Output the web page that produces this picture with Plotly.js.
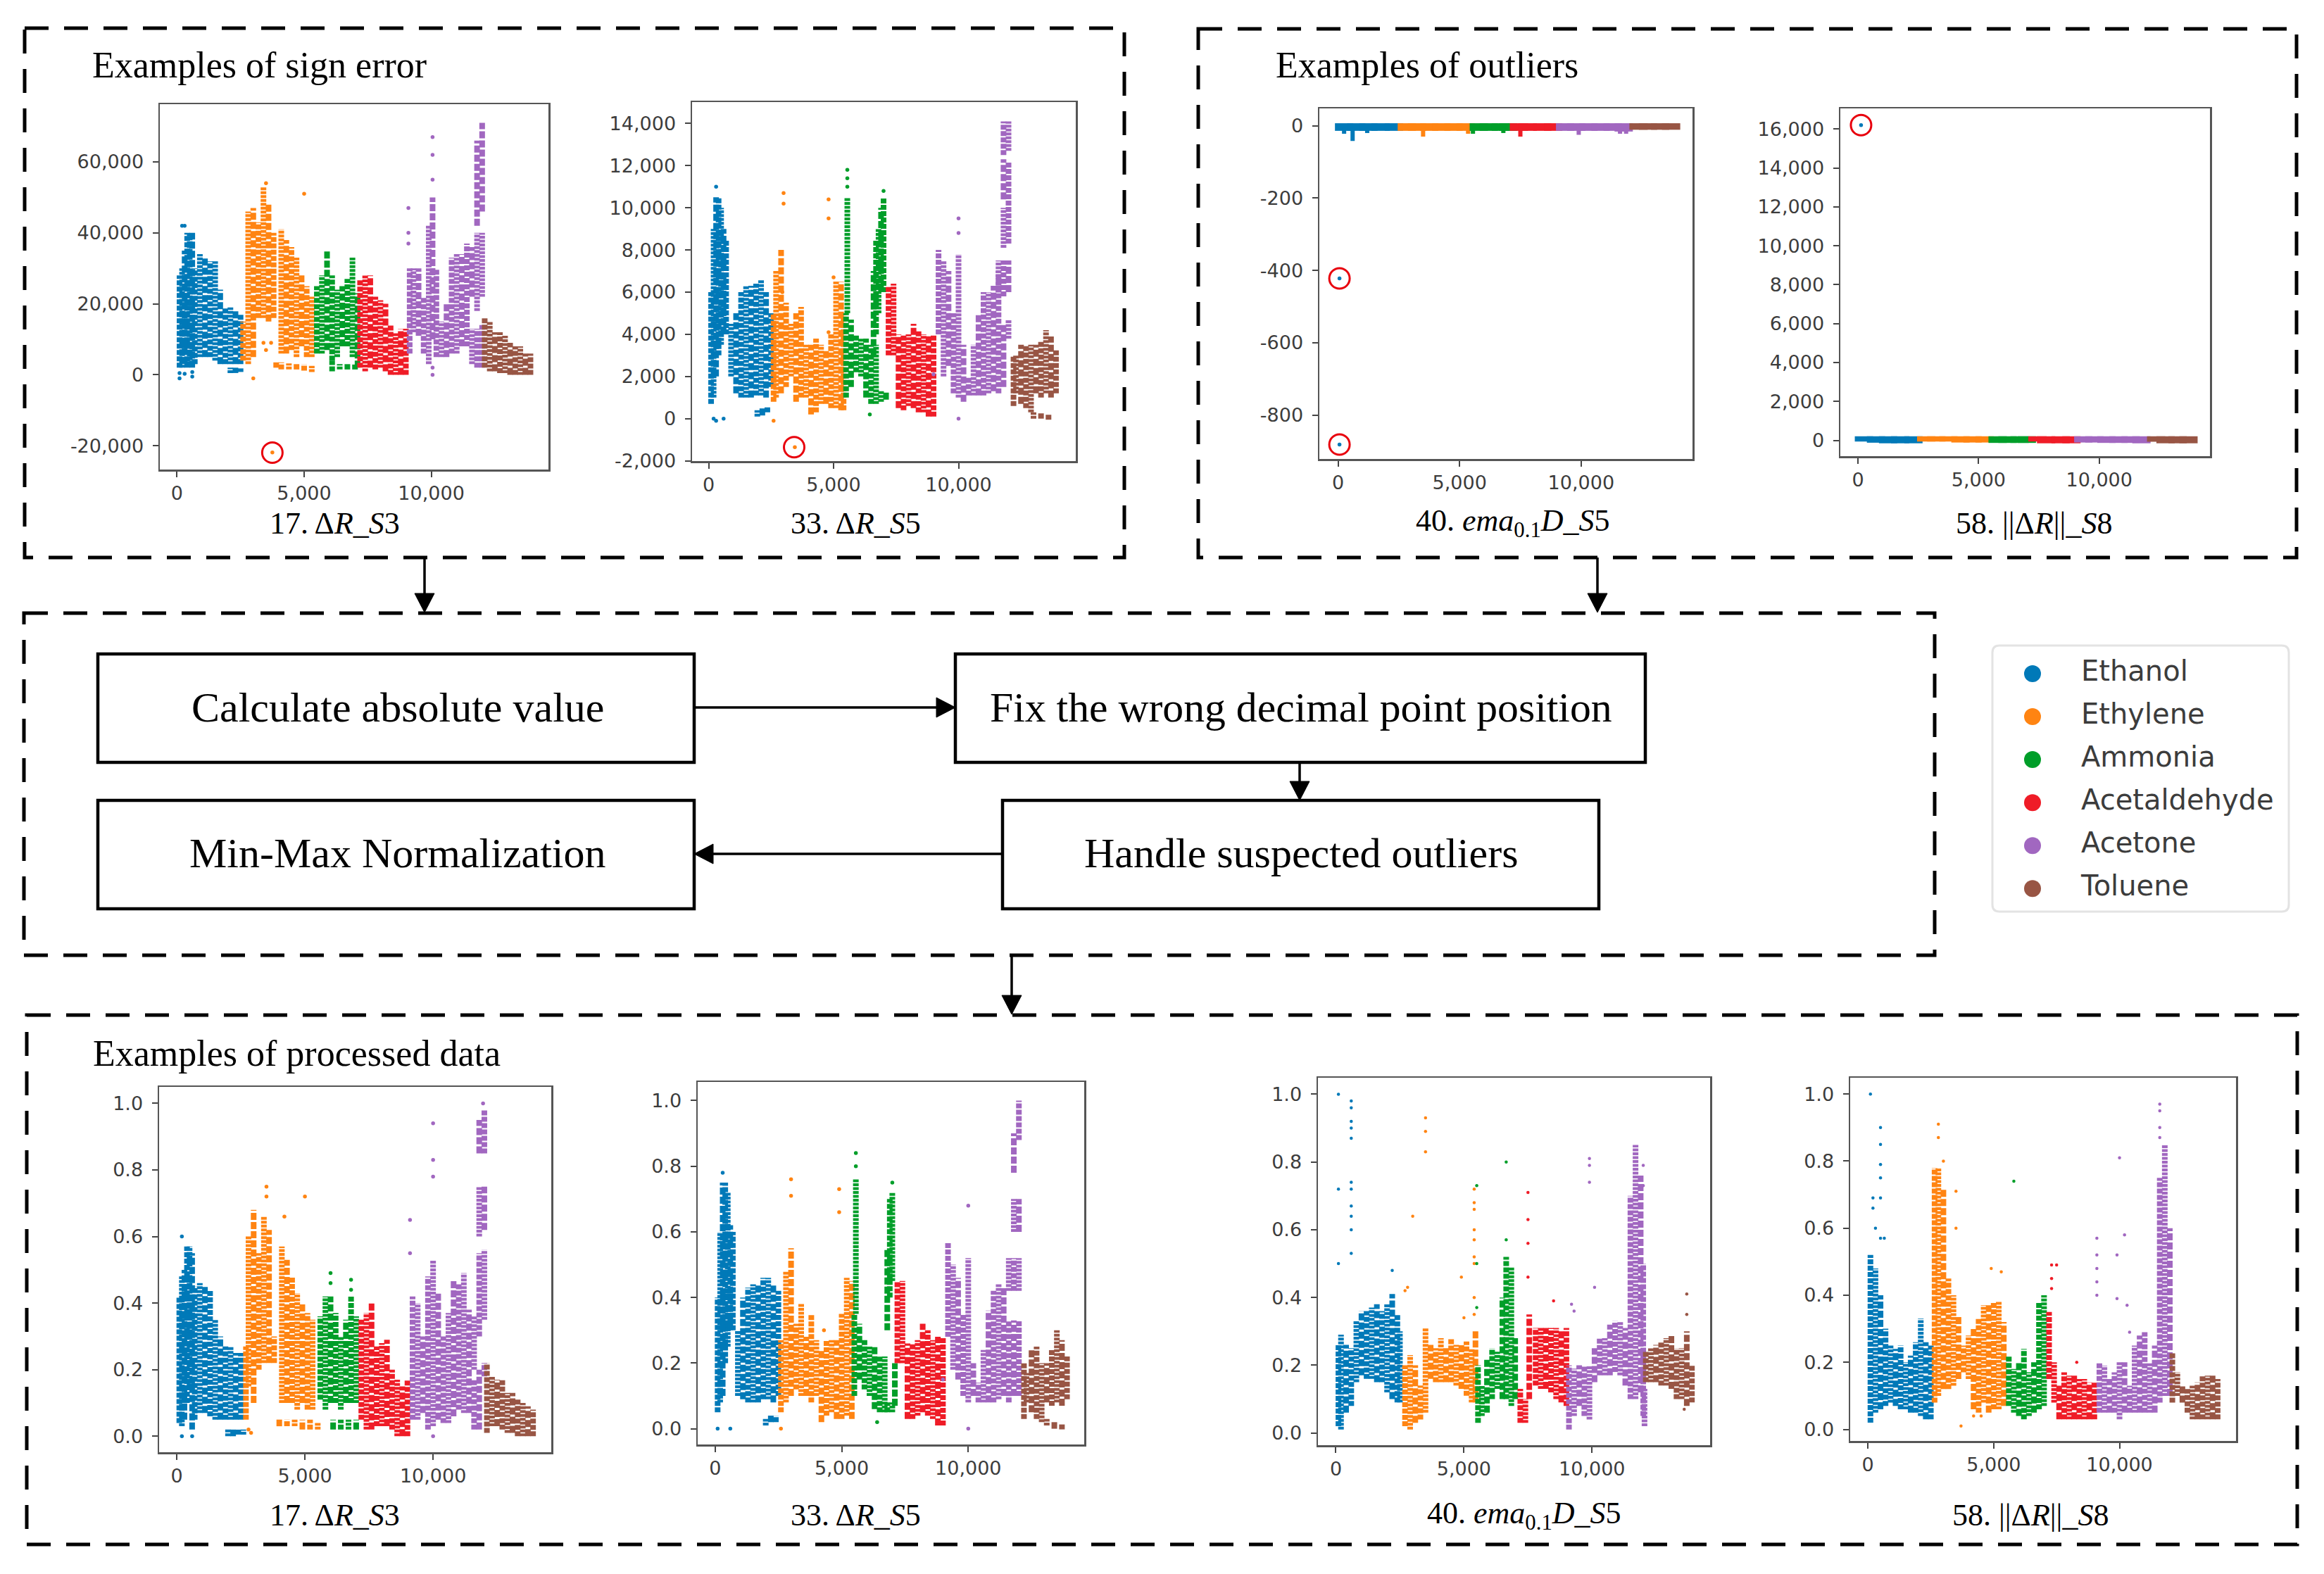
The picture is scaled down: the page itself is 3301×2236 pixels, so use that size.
<!DOCTYPE html>
<html><head><meta charset="utf-8">
<script src="https://cdn.plot.ly/plotly-3.0.1.min.js"></script>
<style>html,body{margin:0;padding:0;background:#fff}</style></head>
<body><div id="chart" style="width:3301px;height:2236px"></div>
<script>
var gases=['Ethanol','Ethylene','Ammonia','Acetaldehyde','Acetone','Toluene'];
var gasColors=['#0079b8','#ff8412','#009e29','#ef1c27','#a167c0','#985544'];
var xTickVals=[0,5000,10000];
var xTickText=['0','5,000','10,000'];
var unitTickVals=[0,0.2,0.4,0.6,0.8,1];
var unitTickText=['0.0','0.2','0.4','0.6','0.8','1.0'];

// 17. dR_S3, raw
var a17_Ethanol_x=[100,200,300,400,500,600,700,900,1100,1300,1500,1700,1900,2100,2300,2500,2100,2300,2500];
var a17_Ethanol_lo=[2000,2000,3000,2000,3000,2000,3000,5000,5000,5000,4000,3000,3000,3000,3000,3000,500,500,800];
var a17_Ethanol_hi=[28000,30000,35000,40000,40000,40000,30000,34000,33000,32000,32000,24000,19000,19000,18000,17000,2000,2000,1800];
var a17_Ethanol_px=[100,200,300,600,100,300,600];var a17_Ethanol_py=[-1000,42000,42000,-500,500,300,800];
var a17_Ethylene_x=[2600,2800,3000,3200,3400,3600,3800,4100,4300,4500,4700,4900,5100,5300,3900,4100,4400,4700,5000,5300];
var a17_Ethylene_lo=[4000,3000,5000,16000,16000,15000,16000,6000,6000,7000,5000,8000,5000,5000,2000,1500,1500,1500,1200,800];
var a17_Ethylene_hi=[15000,46000,47000,43000,53000,48000,40000,41000,38000,36000,33000,28000,25000,22000,3500,3500,3200,3000,3000,2500];
var a17_Ethylene_px=[3000,3500,3500,5000,3700,3400,3750];var a17_Ethylene_py=[-1000,54000,7000,51000,9000,9000,-21900];
var a17_Ammonia_x=[5500,5700,5900,6100,6300,6500,6700,6900,7100,6100,6400,6700,7000];
var a17_Ammonia_lo=[6000,6000,7000,4000,5000,8000,8000,5000,2000,1000,1500,1500,1500];
var a17_Ammonia_hi=[25000,28000,35000,28000,24000,25000,27000,33000,23000,4000,3000,3000,3000];
var a17_Acetaldehyde_x=[7200,7400,7600,7800,8000,8200,8400,8600,8800,9000];
var a17_Acetaldehyde_lo=[2000,1000,2000,1500,2000,1000,0,0,0,0];
var a17_Acetaldehyde_hi=[27000,28000,28000,22000,21000,20000,14000,12000,13000,13000];
var a17_Acetone_x=[9150,9300,9500,9700,9900,10050,10200,10400,10600,10800,11000,11200,11400,11600,11600,11800,11800,11800,12000,12000,12000];
var a17_Acetone_lo=[6000,12000,11000,6000,3000,10000,5000,5000,5000,6000,6000,8000,8000,3000,22000,2000,18000,42000,2000,22000,46000];
var a17_Acetone_hi=[30000,30000,30000,22000,42000,50000,30000,15000,20000,33000,34000,34000,37000,13000,36000,13000,40000,66000,14000,40000,71000];
var a17_Acetone_px=[9100,9100,9100,10050,10050,10050,10050,10050];var a17_Acetone_py=[47000,40000,37000,67000,62000,55000,0,2000];
var a17_Toluene_x=[12100,12300,12500,12700,12900,13100,13300,13500,13700,13900];
var a17_Toluene_lo=[2000,1000,1000,500,500,0,0,0,0,0];
var a17_Toluene_hi=[16000,15000,12000,12000,11000,9000,8000,8000,6000,6000];

// 33. dR_S5, raw
var a33_Ethanol_x=[100,200,300,400,500,600,700,900,1100,1300,1500,1700,1900,2100,2300,2500,1950,2150,2350];
var a33_Ethanol_lo=[700,1000,2000,3000,3500,4000,4000,2000,1200,1000,1000,1000,1100,1100,1000,1500,100,150,300];
var a33_Ethanol_hi=[6000,9000,10500,10500,10000,9000,8500,4500,5000,6000,6300,6300,6400,6600,6000,5000,400,500,600];
var a33_Ethanol_px=[200,300,600,300];var a33_Ethanol_py=[0,-100,0,11000];
var a33_Ethylene_x=[2600,2700,2900,3100,3300,3500,3700,3900,4100,4300,4500,4700,4900,5100,5300,5400];
var a33_Ethylene_lo=[800,1000,1200,1500,2000,800,1000,1000,200,300,700,700,500,500,400,400];
var a33_Ethylene_hi=[5000,7000,8000,5500,4500,5000,5300,3500,3500,3800,3500,3300,4000,6500,6500,5000];
var a33_Ethylene_px=[3000,3000,2950,4800,4800,4800,5000,2600,3450];var a33_Ethylene_py=[10700,10200,6000,10400,9500,4100,6700,-100,-1350];
var a33_Ammonia_x=[5500,5550,5700,5900,6100,6300,6500,6700,6600,6700,6800,6900,7000,6900,7100];
var a33_Ammonia_lo=[1000,5000,1500,2200,2000,1000,700,700,3000,4000,5000,6000,6000,800,900];
var a33_Ammonia_hi=[5000,10500,4700,4000,3800,3800,3500,3500,7000,8500,9000,10000,10500,1300,1300];
var a33_Ammonia_px=[5550,5550,5550,7000,6450];var a33_Ammonia_py=[11800,11400,11000,10800,200];
var a33_Acetaldehyde_x=[7200,7400,7600,7800,8000,8200,8400,8600,8800,9000];
var a33_Acetaldehyde_lo=[3000,3000,500,400,600,500,300,300,100,100];
var a33_Acetaldehyde_hi=[6300,6400,4000,4000,4000,4500,4200,4000,4000,4000];
var a33_Acetone_x=[9200,9400,9600,9800,10000,10200,10400,10600,10800,11000,11200,11400,11600,11600,11800,11800,11800,11800,11800,12000,12000,12000,12000];
var a33_Acetone_lo=[4000,2000,2500,1200,1000,800,1100,1100,1100,1100,1200,1300,1200,5800,1500,5800,8100,10400,12500,3800,6000,8300,12700];
var a33_Acetone_hi=[8000,7500,7000,5000,7800,3500,2000,3500,5000,6000,6000,6300,7000,7500,4500,7500,10000,12300,14100,4700,7500,12200,14100];
var a33_Acetone_px=[9000,10000,10000,10000];var a33_Acetone_py=[2100,9500,8800,0];
var a33_Toluene_x=[12200,12300,12500,12700,12900,13100,13300,13500,13700,13900,13000,13300,13600];
var a33_Toluene_lo=[600,1200,700,500,300,1200,1000,1200,1000,1200,0,0,-50];
var a33_Toluene_hi=[3000,3000,3500,3500,3500,3500,3700,4200,3900,3300,300,250,200];

// 40. ema D_S5, raw (flat band with drips)
var a40_Ethanol_x=[250,750,1250,1750,2300];
var a40_Ethanol_lo=[-14,-14,-14,-14,-14];
var a40_Ethanol_hi=[7,7,7,7,7];
var a40_Ethanol_px=[60,60];var a40_Ethanol_py=[-422,-881];
var a40_Ethanol_dx=[600,250,1200];var a40_Ethanol_dlo=[-42,-22,-20];var a40_Ethanol_dhi=[-5,-5,-5];
var a40_Ethylene_x=[2830,3250,3750,4250,4750,5250];
var a40_Ethylene_lo=[-14,-14,-14,-14,-14,-14];
var a40_Ethylene_hi=[7,7,7,7,7,7];
var a40_Ethylene_dx=[3500,5350];var a40_Ethylene_dlo=[-30,-22];var a40_Ethylene_dhi=[-5,-5];
var a40_Ammonia_x=[5790,6200,6700,7000];
var a40_Ammonia_lo=[-14,-14,-14,-14];
var a40_Ammonia_hi=[7,7,7,7];
var a40_Ammonia_dx=[6800,5550];var a40_Ammonia_dlo=[-20,-22];var a40_Ammonia_dhi=[-5,-5];
var a40_Acetaldehyde_x=[7440,7800,8400,8850];
var a40_Acetaldehyde_lo=[-14,-14,-14,-14];
var a40_Acetaldehyde_hi=[7,7,7,7];
var a40_Acetaldehyde_dx=[7500];var a40_Acetaldehyde_dlo=[-30];var a40_Acetaldehyde_dhi=[-5];
var a40_Acetone_x=[9340,9800,10300,10800,11300,11750];
var a40_Acetone_lo=[-14,-14,-14,-14,-14,-16];
var a40_Acetone_hi=[7,7,7,7,7,7];
var a40_Acetone_dx=[9900,11600,11850];var a40_Acetone_dlo=[-25,-22,-22];var a40_Acetone_dhi=[-5,-5,-5];
var a40_Toluene_x=[12360,12750,13250,13700];
var a40_Toluene_lo=[-11,-11,-11,-11];
var a40_Toluene_hi=[7,7,7,7];

// 58. ||dR||_S8, raw
var a58_Ethanol_x=[250,750,1250,1750,2300];
var a58_Ethanol_lo=[-60,-120,-150,-150,-150];
var a58_Ethanol_hi=[210,210,210,210,210];
var a58_Ethanol_px=[130];var a58_Ethanol_py=[16200];
var a58_Ethylene_x=[2830,3250,3750,4250,4750,5250];
var a58_Ethylene_lo=[-60,-60,-60,-110,-110,-110];
var a58_Ethylene_hi=[210,210,210,210,210,210];
var a58_Ammonia_x=[5790,6200,6700,7000];
var a58_Ammonia_lo=[-130,-130,-130,-130];
var a58_Ammonia_hi=[210,210,210,210];
var a58_Acetaldehyde_x=[7440,7800,8400,8850];
var a58_Acetaldehyde_lo=[-60,-150,-150,-150];
var a58_Acetaldehyde_hi=[210,210,210,210];
var a58_Acetone_x=[9340,9800,10300,10800,11300,11750];
var a58_Acetone_lo=[-110,-110,-130,-130,-130,-150];
var a58_Acetone_hi=[210,210,210,210,210,210];
var a58_Toluene_x=[12360,12750,13250,13700];
var a58_Toluene_lo=[-70,-150,-150,-150];
var a58_Toluene_hi=[210,210,210,210];

// 17. processed
var b17_Ethanol_x=[100,200,300,400,500,600,700,900,1100,1300,1500,1700,1900,2100,2300,2500,2000,2200,2400,2600];
var b17_Ethanol_lo=[.04,.03,.05,.1,.15,.02,.05,.07,.07,.06,.05,.05,.05,.05,.05,.05,0,0,.005,.005];
var b17_Ethanol_hi=[.42,.48,.5,.57,.57,.55,.45,.46,.45,.44,.35,.3,.27,.27,.25,.25,.02,.02,.02,.02];
var b17_Ethanol_px=[200,600,200];var b17_Ethanol_py=[0,0,.6];
var b17_Ethylene_x=[2700,2800,3000,3200,3400,3600,3800,4100,4300,4500,4700,4900,5100,5300,4000,4300,4600,4900,5200,5500];
var b17_Ethylene_lo=[.05,.15,.1,.2,.22,.22,.22,.1,.1,.1,.08,.1,.08,.08,.03,.03,.03,.02,.02,.02];
var b17_Ethylene_hi=[.27,.6,.68,.55,.66,.62,.3,.57,.53,.48,.43,.4,.37,.35,.05,.05,.05,.05,.05,.04];
var b17_Ethylene_px=[5000,4200,3500,3500,2900,2800];var b17_Ethylene_py=[.72,.66,.75,.72,.01,.02];
var b17_Ammonia_x=[5600,5800,6000,6200,6400,6600,6800,7000,6100,6400,6700,7000];
var b17_Ammonia_lo=[.11,.08,.1,.1,.08,.1,.1,.1,.02,.02,.02,.02];
var b17_Ammonia_hi=[.36,.42,.42,.37,.3,.35,.42,.36,.05,.05,.05,.05];
var b17_Ammonia_px=[6000,6000,6800,6800];var b17_Ammonia_py=[.49,.46,.47,.44];
var b17_Acetaldehyde_x=[7200,7400,7600,7800,8000,8200,8400,8600,8800,9000];
var b17_Acetaldehyde_lo=[.05,.02,.02,.03,.03,.03,.02,0,0,0];
var b17_Acetaldehyde_hi=[.35,.37,.4,.27,.28,.29,.2,.17,.15,.17];
var b17_Acetone_x=[9200,9400,9600,9800,10000,10200,10400,10600,10800,11000,11200,11400,11600,11600,11800,11800,11800,11800,12000,12000,12000,12000];
var b17_Acetone_lo=[.05,.05,.07,.02,.03,.05,.04,.04,.06,.08,.07,.07,.02,.2,.02,.3,.6,.85,.18,.35,.62,.85];
var b17_Acetone_hi=[.42,.4,.3,.48,.53,.43,.3,.37,.47,.46,.49,.38,.17,.36,.2,.55,.75,.95,.22,.56,.75,.98];
var b17_Acetone_px=[9100,9100,10000,10000,10000,10000,11950];var b17_Acetone_py=[.65,.55,.94,.83,.78,0,1];
var b17_Toluene_x=[12100,12300,12500,12700,12900,13100,13300,13500,13700,13900];
var b17_Toluene_lo=[.01,.03,.03,.02,.01,.01,0,0,0,0];
var b17_Toluene_hi=[.22,.18,.17,.17,.13,.13,.11,.1,.09,.08];

// 33. processed
var b33_Ethanol_x=[100,200,300,400,500,600,700,900,1100,1300,1500,1700,1900,2100,2300,2500,2000,2200,2400];
var b33_Ethanol_lo=[.05,.08,.1,.2,.25,.3,.3,.1,.09,.08,.08,.08,.09,.09,.08,.1,.01,.02,.02];
var b33_Ethanol_hi=[.4,.6,.75,.75,.72,.62,.6,.3,.4,.43,.44,.44,.46,.46,.44,.42,.03,.04,.04];
var b33_Ethanol_px=[100,600,300];var b33_Ethanol_py=[0,0,.78];
var b33_Ethylene_x=[2600,2800,3000,3200,3400,3600,3800,4000,4200,4400,4600,4800,5000,5200,5400];
var b33_Ethylene_lo=[.05,.08,.1,.12,.1,.1,.08,.1,.02,.04,.05,.03,.03,.04,.03];
var b33_Ethylene_hi=[.27,.48,.55,.32,.38,.28,.35,.27,.24,.27,.27,.27,.35,.46,.45];
var b33_Ethylene_px=[3000,3000,4900,4900,3800,4300,2600];var b33_Ethylene_py=[.76,.71,.73,.66,.3,.3,0];
var b33_Ammonia_x=[5500,5560,5700,5900,6100,6300,6500,6700,6800,6900,7000,7100,6800,7000];
var b33_Ammonia_lo=[.1,.35,.15,.12,.1,.06,.05,.05,.3,.4,.45,.07,.05,.05];
var b33_Ammonia_hi=[.35,.76,.32,.27,.25,.25,.22,.22,.55,.7,.72,.2,.08,.08];
var b33_Ammonia_px=[5560,5560,7000,6400];var b33_Ammonia_py=[.84,.8,.75,.02];
var b33_Acetaldehyde_x=[7200,7400,7600,7800,8000,8200,8400,8600,8800,9000];
var b33_Acetaldehyde_lo=[.2,.2,.03,.03,.04,.05,.04,.03,.01,.01];
var b33_Acetaldehyde_hi=[.45,.45,.26,.26,.27,.32,.3,.27,.28,.28];
var b33_Acetone_x=[9200,9400,9600,9800,10000,10200,10400,10600,10800,11000,11200,11400,11600,11600,11800,11800,11800,11800,12000,12000,12000,12000];
var b33_Acetone_lo=[.28,.18,.15,.1,.08,.1,.08,.08,.08,.08,.09,.1,.08,.42,.1,.42,.6,.78,.1,.42,.6,.88];
var b33_Acetone_hi=[.57,.5,.46,.35,.52,.2,.14,.24,.36,.42,.44,.43,.33,.52,.33,.52,.7,.9,.33,.52,.7,1];
var b33_Acetone_px=[10000,10000,9000];var b33_Acetone_py=[.68,0,.15];
var b33_Toluene_x=[12200,12300,12500,12700,12900,13100,13300,13500,13700,13900,13100,13400,13700];
var b33_Toluene_lo=[.03,.08,.05,.03,.02,.08,.07,.08,.07,.09,.01,0,-.002];
var b33_Toluene_hi=[.2,.17,.24,.25,.2,.2,.24,.3,.27,.22,.03,.02,.015];

// 40. processed
var b40_Ethanol_x=[100,200,400,600,800,1000,1200,1400,1600,1800,2000,2200,2400,2500];
var b40_Ethanol_lo=[.02,.01,.06,.08,.15,.17,.16,.16,.15,.15,.12,.1,.09,.09];
var b40_Ethanol_hi=[.26,.29,.26,.25,.33,.36,.36,.37,.38,.36,.38,.41,.35,.3];
var b40_Ethanol_px=[100,100,100,600,600,600,600,600,600,600,600,600,600,600,2200];
var b40_Ethanol_py=[1,.72,.5,.98,.96,.92,.9,.87,.74,.72,.67,.64,.6,.53,.48];
var b40_Ethylene_x=[2700,2900,3100,3300,3500,3700,3900,4100,4300,4500,4700,4900,5100,5300,5450];
var b40_Ethylene_lo=[.02,.01,.03,.04,.06,.16,.15,.15,.15,.15,.14,.13,.11,.09,.09];
var b40_Ethylene_hi=[.2,.23,.2,.14,.31,.26,.25,.28,.25,.28,.26,.26,.27,.25,.3];
var b40_Ethylene_px=[3500,3500,3500,3000,2700,2800,5400,5400,5400,5400,5400,5400,5400,5400,5400,4900,5000];
var b40_Ethylene_py=[.93,.89,.83,.64,.42,.43,.72,.68,.66,.6,.57,.52,.5,.4,.35,.46,.34];
var b40_Ammonia_x=[5550,5700,5900,6100,6300,6500,6650,6850,7000];
var b40_Ammonia_lo=[.03,.05,.06,.1,.13,.1,.1,.08,.1];
var b40_Ammonia_hi=[.2,.14,.22,.25,.24,.4,.52,.49,.28];
var b40_Ammonia_px=[6650,6650,5500,5500,5500];var b40_Ammonia_py=[.8,.57,.73,.5,.37];
var b40_Acetaldehyde_x=[7200,7400,7550,7800,8000,8200,8400,8600,8800,9000];
var b40_Acetaldehyde_lo=[.03,.03,.1,.14,.13,.13,.12,.1,.09,.08];
var b40_Acetaldehyde_hi=[.13,.1,.35,.31,.31,.31,.31,.31,.3,.31];
var b40_Acetaldehyde_px=[7500,7500,7500,7500,8500];var b40_Acetaldehyde_py=[.71,.63,.56,.46,.39];
var b40_Acetone_x=[9100,9300,9500,9700,9900,10100,10300,10500,10700,10900,11100,11300,11500,11700,11900,12000,12050];
var b40_Acetone_lo=[.01,.05,.08,.05,.04,.15,.17,.17,.17,.18,.17,.14,.1,.1,.12,.05,.02];
var b40_Acetone_hi=[.2,.19,.2,.2,.2,.25,.28,.28,.32,.33,.33,.31,.7,.85,.76,.5,.13];
var b40_Acetone_px=[9900,9900,9900,10100,9200,9300,12000,12000];var b40_Acetone_py=[.81,.79,.74,.43,.38,.36,.73,.79];
var b40_Toluene_x=[12100,12300,12500,12700,12900,13100,13300,13500,13700,13900];
var b40_Toluene_lo=[.15,.15,.15,.14,.14,.13,.1,.1,.08,.09];
var b40_Toluene_hi=[.24,.25,.26,.27,.28,.29,.25,.25,.3,.2];
var b40_Toluene_px=[13700,13700,13600];var b40_Toluene_py=[.41,.35,.07];

// 58. processed
var b58_Ethanol_x=[100,300,500,700,900,1100,1300,1500,1700,1900,2100,2300,2500];
var b58_Ethanol_lo=[.02,.05,.06,.07,.08,.07,.06,.06,.05,.05,.04,.03,.03];
var b58_Ethanol_hi=[.52,.48,.4,.3,.25,.24,.25,.2,.22,.26,.33,.26,.25];
var b58_Ethanol_px=[100,200,200,500,500,500,500,500,500,300,650];var b58_Ethanol_py=[1,.69,.66,.9,.85,.79,.75,.69,.57,.6,.57];
var b58_Ethylene_x=[2650,2800,3000,3200,3400,3600,3800,4000,4200,4400,4600,4800,5000,5200,5400];
var b58_Ethylene_lo=[.08,.1,.12,.12,.13,.15,.17,.15,.06,.05,.08,.05,.06,.06,.07];
var b58_Ethylene_hi=[.78,.78,.72,.45,.4,.34,.25,.28,.3,.33,.37,.37,.38,.38,.32];
var b58_Ethylene_px=[2800,2800,3000,3500,3500,4900,5300,3700,4200,4500];var b58_Ethylene_py=[.91,.87,.8,.71,.6,.48,.47,.01,.04,.04];
var b58_Ammonia_x=[5600,5800,6000,6200,6400,6600,6800,7000];
var b58_Ammonia_lo=[.07,.05,.04,.03,.04,.05,.06,.07];
var b58_Ammonia_hi=[.22,.18,.2,.24,.17,.2,.38,.4];
var b58_Ammonia_px=[5800];var b58_Ammonia_py=[.74];
var b58_Acetaldehyde_x=[7200,7400,7600,7800,8000,8200,8400,8600,8800,9000];
var b58_Acetaldehyde_lo=[.15,.08,.03,.03,.03,.03,.03,.03,.03,.03];
var b58_Acetaldehyde_hi=[.35,.2,.13,.17,.16,.16,.15,.15,.14,.14];
var b58_Acetaldehyde_px=[7300,7300,7300,7500,8300];var b58_Acetaldehyde_py=[.49,.45,.42,.49,.2];
var b58_Acetone_x=[9200,9400,9600,9800,10000,10200,10400,10600,10800,11000,11200,11400,11600,11800,12000];
var b58_Acetone_lo=[.05,.05,.05,.05,.03,.05,.05,.05,.05,.05,.05,.05,.08,.1,.1];
var b58_Acetone_hi=[.2,.19,.15,.17,.2,.2,.13,.25,.28,.29,.2,.25,.75,.85,.6];
var b58_Acetone_px=[9100,9100,9100,9100,9100,10000,10200,9900,10400,11600,11600,11600,11600,10300,9900];
var b58_Acetone_py=[.57,.52,.48,.44,.4,.81,.58,.52,.29,.97,.95,.9,.87,.37,.39];
var b58_Toluene_x=[12100,12300,12500,12700,12900,13100,13300,13500,13700,13900];
var b58_Toluene_lo=[.08,.1,.08,.05,.03,.03,.03,.03,.03,.03];
var b58_Toluene_hi=[.23,.17,.13,.12,.13,.14,.16,.16,.16,.15];

// outlier rings
var ringX=[3750,3423,60,60,130];
var ringY=[-21940,-1354,-422,-881,16200];
var ringPanel=['a17','a33','a40','a40','a58'];

var W=3301,H=2236;
var a17YVals=[-20000,0,20000,40000,60000];var a17YText=['-20,000','0','20,000','40,000','60,000'];
var a33YVals=[-2000,0,2000,4000,6000,8000,10000,12000,14000];var a33YText=['-2,000','0','2,000','4,000','6,000','8,000','10,000','12,000','14,000'];
var a40YVals=[-800,-600,-400,-200,0];var a40YText=['-800','-600','-400','-200','0'];
var a58YVals=[0,2000,4000,6000,8000,10000,12000,14000,16000];var a58YText=['0','2,000','4,000','6,000','8,000','10,000','12,000','14,000','16,000'];
var frames=[
 ['a17',227,779,148,667,-676,14607,-26700,76270,a17YVals,a17YText,8],
 ['a33',983,1528,145,655,-662,14690,-2013,15014,a33YVals,a33YText,8],
 ['a40',1874,2404,154,652,-768,14580,-921,48,a40YVals,a40YText,26],
 ['a58',2614,3139,154,648,-729,14590,-811,17060,a58YVals,a58YText,26],
 ['b17',226,783,1544,2063,-688,14610,-.048,1.0496,unitTickVals,unitTickText,8],
 ['b33',991,1540,1537,2052,-688,14580,-.048,1.0568,unitTickVals,unitTickText,8],
 ['b40',1872,2429,1531,2053,-700,14610,-.036,1.0487,unitTickVals,unitTickText,8],
 ['b58',2628,3176,1531,2047,-705,14630,-.0346,1.0487,unitTickVals,unitTickText,8]
];
// stipple patterns used in turn so that neighbouring columns do not line up
var stipple=['7px,2px','4px,1.5px','10px,3px'];
var traces=[],layout={width:W,height:H,margin:{l:0,r:0,t:0,b:0},paper_bgcolor:'#fff',plot_bgcolor:'#fff',showlegend:false,shapes:[],annotations:[]};
frames.forEach(function(f,i){
  var n=i?String(i+1):'',xk='xaxis'+n,yk='yaxis'+n,xa='x'+n,ya='y'+n;
  var tick={tickfont:{family:'DejaVu Sans',size:27,color:'#3c3c3c'},ticks:'outside',ticklen:8,tickwidth:2,tickcolor:'#444',showgrid:false,zeroline:false,showline:true,mirror:true,linecolor:'#555',linewidth:2.5,tickmode:'array'};
  layout[xk]=Object.assign({},tick,{domain:[f[1]/W,f[2]/W],range:[f[5],f[6]],tickvals:xTickVals,ticktext:xTickText,anchor:ya});
  layout[yk]=Object.assign({},tick,{domain:[1-f[4]/H,1-f[3]/H],range:[f[7],f[8]],tickvals:f[9],ticktext:f[10],anchor:xa,ticklabelstandoff:7});
  gases.forEach(function(g,k){
    var c=gasColors[k],p=f[0]+'_'+g+'_';
    var xs=window[p+'x'],lo=window[p+'lo'],hi=window[p+'hi'],px=window[p+'px'],py=window[p+'py'];
    var dx=window[p+'dx'],dlo=window[p+'dlo'],dhi=window[p+'dhi'];
    var flat=f[11]>20;
    (flat?['solid']:stipple).forEach(function(d,s,all){
      var lx=[],ly=[];
      xs.forEach(function(x,j){if(j%all.length===s){lx.push(x,x,null);ly.push(lo[j],hi[j],null);}});
      if(lx.length)traces.push({type:'scatter',mode:'lines',name:g,x:lx,y:ly,xaxis:xa,yaxis:ya,hoverinfo:'skip',line:{color:c,width:f[11],dash:d}});
    });
    if(dx){
      var ex=[],ey=[];
      dx.forEach(function(x,j){ex.push(x,x,null);ey.push(dlo[j],dhi[j],null);});
      traces.push({type:'scatter',mode:'lines',name:g,x:ex,y:ey,xaxis:xa,yaxis:ya,hoverinfo:'skip',line:{color:c,width:6}});
    }
    if(px)traces.push({type:'scatter',mode:'markers',name:g,x:px,y:py,xaxis:xa,yaxis:ya,hoverinfo:'skip',marker:{color:c,size:i>5?4.5:5.5}});
  });
});
frames.forEach(function(f,i){
  var n=i?String(i+1):'',xs=[],ys=[];
  ringPanel.forEach(function(p,j){if(p===f[0]){xs.push(ringX[j]);ys.push(ringY[j]);}});
  if(xs.length)traces.push({type:'scatter',mode:'markers',x:xs,y:ys,xaxis:'x'+n,yaxis:'y'+n,hoverinfo:'skip',cliponaxis:false,
    marker:{symbol:'circle-open',size:29,color:'#e8000d',line:{color:'#e8000d',width:3}}});
});
// key: markers and names on their own hidden axes
var keyRows=gases.map(function(g,k){return k;});
layout.xaxis9={domain:[2830/W,3251/W],range:[0,421],visible:false,anchor:'y9'};
layout.yaxis9={domain:[1-1295/H,1-917/H],range:[5.535,-0.654],visible:false,anchor:'x9'};
traces.push({type:'scatter',mode:'markers',x:gases.map(function(){return 57;}),y:keyRows,xaxis:'x9',yaxis:'y9',hoverinfo:'skip',marker:{color:gasColors,size:24}});
traces.push({type:'scatter',mode:'text',x:gases.map(function(){return 126;}),y:keyRows,text:gases,textposition:'middle right',xaxis:'x9',yaxis:'y9',hoverinfo:'skip',cliponaxis:false,textfont:{family:'DejaVu Sans',size:40,color:'#3c3c3c'}});

function X(v){return v/W;} function Y(v){return 1-v/H;}
function rect(x0,y0,x1,y1,dash,w){layout.shapes.push({type:'rect',xref:'paper',yref:'paper',x0:X(x0),x1:X(x1),y0:Y(y0),y1:Y(y1),line:{color:'#000',width:w,dash:dash||'solid'}});}
function seg(x0,y0,x1,y1){layout.shapes.push({type:'line',xref:'paper',yref:'paper',x0:X(x0),x1:X(x1),y0:Y(y0),y1:Y(y1),line:{color:'#000',width:3.5}});}
function tri(a,b,c,d,e,f){layout.shapes.push({type:'path',xref:'paper',yref:'paper',path:'M'+X(a)+','+Y(b)+' L'+X(c)+','+Y(d)+' L'+X(e)+','+Y(f)+' Z',fillcolor:'#000',line:{color:'#000',width:1}});}
function down(x,y0,y1){seg(x,y0,x,y1-20);tri(x,y1,x-14,y1-27,x+14,y1-27);}
var boxDash='34px,22px';
rect(35,40,1597,792,boxDash,5);
rect(1702,41,3262,792,boxDash,5);
rect(34,871,2748,1357,boxDash,5);
rect(38,1442,3263,2194,boxDash,5);
rect(139,929,986,1083,null,4.5);
rect(1357,929,2337,1083,null,4.5);
rect(1424,1137,2271,1291,null,4.5);
rect(139,1137,986,1291,null,4.5);
down(603,792,870);down(2269,792,870);down(1437,1357,1441);down(1846,1083,1137);
seg(986,1005,1335,1005);tri(1357,1005,1330,991,1330,1019);
seg(1424,1213,1010,1213);tri(986,1213,1013,1199,1013,1227);
var lx0=X(2830),lx1=X(3251),ly0=Y(917),ly1=Y(1295),rx=10/W,ry=10/H;
layout.shapes.push({type:'path',xref:'paper',yref:'paper',layer:'below',line:{color:'#e3e3e3',width:3},
 path:'M'+(lx0+rx)+','+ly0+' L'+(lx1-rx)+','+ly0+' Q'+lx1+','+ly0+' '+lx1+','+(ly0-ry)+' L'+lx1+','+(ly1+ry)+' Q'+lx1+','+ly1+' '+(lx1-rx)+','+ly1+' L'+(lx0+rx)+','+ly1+' Q'+lx0+','+ly1+' '+lx0+','+(ly1+ry)+' L'+lx0+','+(ly0-ry)+' Q'+lx0+','+ly0+' '+(lx0+rx)+','+ly0+' Z'});

function note(px,py,t,size,anchor){layout.annotations.push({xref:'paper',yref:'paper',x:X(px),y:Y(py),text:t,showarrow:false,xanchor:anchor||'center',yanchor:'middle',font:{family:'Liberation Serif',size:size,color:'#000'}});}
note(129,92,'Examples of sign error',52,'left');
note(1810,92,'Examples of outliers',52,'left');
note(130,1496,'Examples of processed data',52,'left');
note(565,1005,'Calculate absolute value',60);
note(1848,1005,'Fix the wrong decimal point position',59.7);
note(1848,1212,'Handle suspected outliers',60);
note(565,1212,'Min-Max Normalization',60);
var s17='17. Δ<i>R</i>_<i>S</i>3',s33='33. Δ<i>R</i>_<i>S</i>5',s40='40. <i>ema</i><sub>0.1</sub><i>D</i>_<i>S</i>5',s58='58. ||Δ<i>R</i>||_<i>S</i>8';
note(475,744,s17,44);note(1215,744,s33,44);note(2149,742,s40,44);note(2889,744,s58,44);
note(475,2152,s17,44);note(1215,2152,s33,44);note(2165,2152,s40,44);note(2884,2152,s58,44);

Plotly.newPlot('chart',traces,layout,{displayModeBar:false,staticPlot:true});
</script></body></html>
